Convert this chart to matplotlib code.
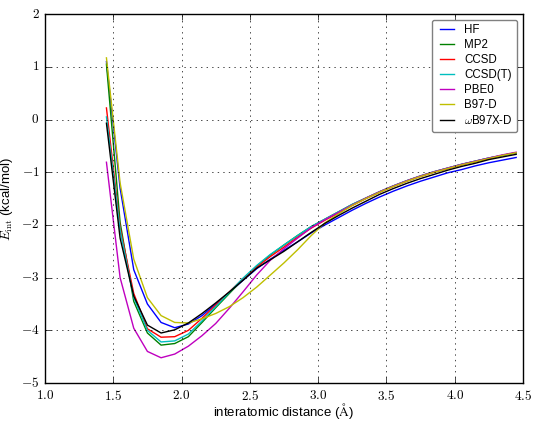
import matplotlib
matplotlib.use("Agg")
import matplotlib.pyplot as plt
from matplotlib.ticker import FuncFormatter
import numpy as np

plt.style.use("classic")
plt.rcParams["font.family"] = ["Liberation Sans", "DejaVu Sans"]
plt.rcParams["mathtext.fontset"] = "cm"
plt.rcParams["mathtext.default"] = "rm"

# interatomic distance grid (Angstrom)
r = [1.45, 1.55, 1.65, 1.75, 1.85, 1.95, 2.05, 2.15, 2.25, 2.35, 2.45,
     2.55, 2.65, 2.75, 2.85, 2.95, 3.05, 3.15, 3.25, 3.35, 3.45, 3.55,
     3.65, 3.75, 3.85, 3.95, 4.05, 4.15, 4.25, 4.35, 4.45]

# interaction energies (kcal/mol)
hf = [1.10, -1.30, -2.85, -3.50, -3.85, -3.95, -3.88, -3.72, -3.50, -3.28, -3.05,
      -2.83, -2.65, -2.48, -2.32, -2.15, -2.00, -1.86, -1.72, -1.59, -1.47, -1.36,
      -1.26, -1.17, -1.09, -1.01, -0.95, -0.88, -0.82, -0.77, -0.72]
mp2 = [1.05, -1.95, -3.45, -4.05, -4.28, -4.25, -4.12, -3.85, -3.57, -3.30, -3.03,
       -2.78, -2.57, -2.38, -2.20, -2.03, -1.89, -1.75, -1.61, -1.49, -1.37, -1.26,
       -1.16, -1.07, -0.99, -0.92, -0.85, -0.79, -0.73, -0.68, -0.63]
ccsd = [0.22, -2.05, -3.30, -3.97, -4.13, -4.12, -4.00, -3.77, -3.52, -3.27, -3.02,
        -2.80, -2.60, -2.42, -2.23, -2.06, -1.91, -1.77, -1.63, -1.50, -1.38, -1.27,
        -1.17, -1.08, -1.00, -0.93, -0.86, -0.80, -0.74, -0.68, -0.63]
ccsd_t = [0.05, -2.10, -3.38, -4.00, -4.22, -4.20, -4.07, -3.82, -3.55, -3.28, -3.01,
          -2.77, -2.56, -2.38, -2.20, -2.03, -1.89, -1.75, -1.61, -1.49, -1.37, -1.26,
          -1.16, -1.07, -0.99, -0.92, -0.85, -0.79, -0.73, -0.68, -0.63]
pbe0 = [-0.81, -3.00, -3.96, -4.40, -4.52, -4.45, -4.30, -4.10, -3.87, -3.58, -3.27,
        -2.95, -2.67, -2.45, -2.25, -2.05, -1.90, -1.76, -1.62, -1.49, -1.37, -1.26,
        -1.16, -1.07, -0.99, -0.92, -0.85, -0.79, -0.73, -0.67, -0.62]
b97d = [1.17, -1.20, -2.65, -3.38, -3.72, -3.85, -3.86, -3.78, -3.68, -3.55, -3.38,
        -3.18, -2.95, -2.72, -2.47, -2.20, -1.96, -1.79, -1.63, -1.50, -1.38, -1.27,
        -1.17, -1.08, -1.00, -0.93, -0.86, -0.80, -0.74, -0.68, -0.63]
wb97xd = [-0.07, -2.25, -3.35, -3.90, -4.05, -3.99, -3.86, -3.68, -3.48, -3.27, -3.05,
          -2.82, -2.66, -2.50, -2.32, -2.14, -1.97, -1.82, -1.68, -1.55, -1.42, -1.31,
          -1.21, -1.12, -1.04, -0.96, -0.89, -0.83, -0.76, -0.71, -0.66]

series = [("HF", hf, "b"), ("MP2", mp2, "g"), ("CCSD", ccsd, "r"),
          ("CCSD(T)", ccsd_t, "c"), ("PBE0", pbe0, "m"),
          ("B97-D", b97d, "y"), (r"$\omega$B97X-D", wb97xd, "k")]

fig = plt.figure(figsize=(5.4, 4.28), dpi=100, facecolor="white")
ax = fig.add_axes([0.0833, 0.105, 0.8852, 0.862])

for label, e, c in series:
    ax.plot(r, e, color=c, lw=1.0, label=label)

ax.set_xlim(1.0, 4.5)
ax.set_ylim(-5, 2)
ax.grid(True)

# tick labels in computer-modern, like a TeX rendered figure
tex_fmt = FuncFormatter(lambda v, pos: r"$%.1f$" % v)
ax.xaxis.set_major_formatter(tex_fmt)
ax.yaxis.set_major_formatter(FuncFormatter(lambda v, pos: r"$%d$" % round(v)))
ax.tick_params(labelsize=9.5, pad=4)

ax.set_xlabel(r"interatomic distance ($\AA$)", fontsize=9.5, labelpad=-1)
ax.set_ylabel(r"$\mathit{E}_{\mathrm{int}}$ (kcal/mol)", fontsize=9.5, labelpad=4)

leg = ax.legend(loc="upper right", fontsize=8.3, handlelength=1.8,
                handletextpad=0.6, borderpad=0.4, labelspacing=0.26,
                fancybox=True)
leg.get_frame().set_edgecolor("0.5")

fig.savefig("out.png", dpi=100, facecolor="white")
